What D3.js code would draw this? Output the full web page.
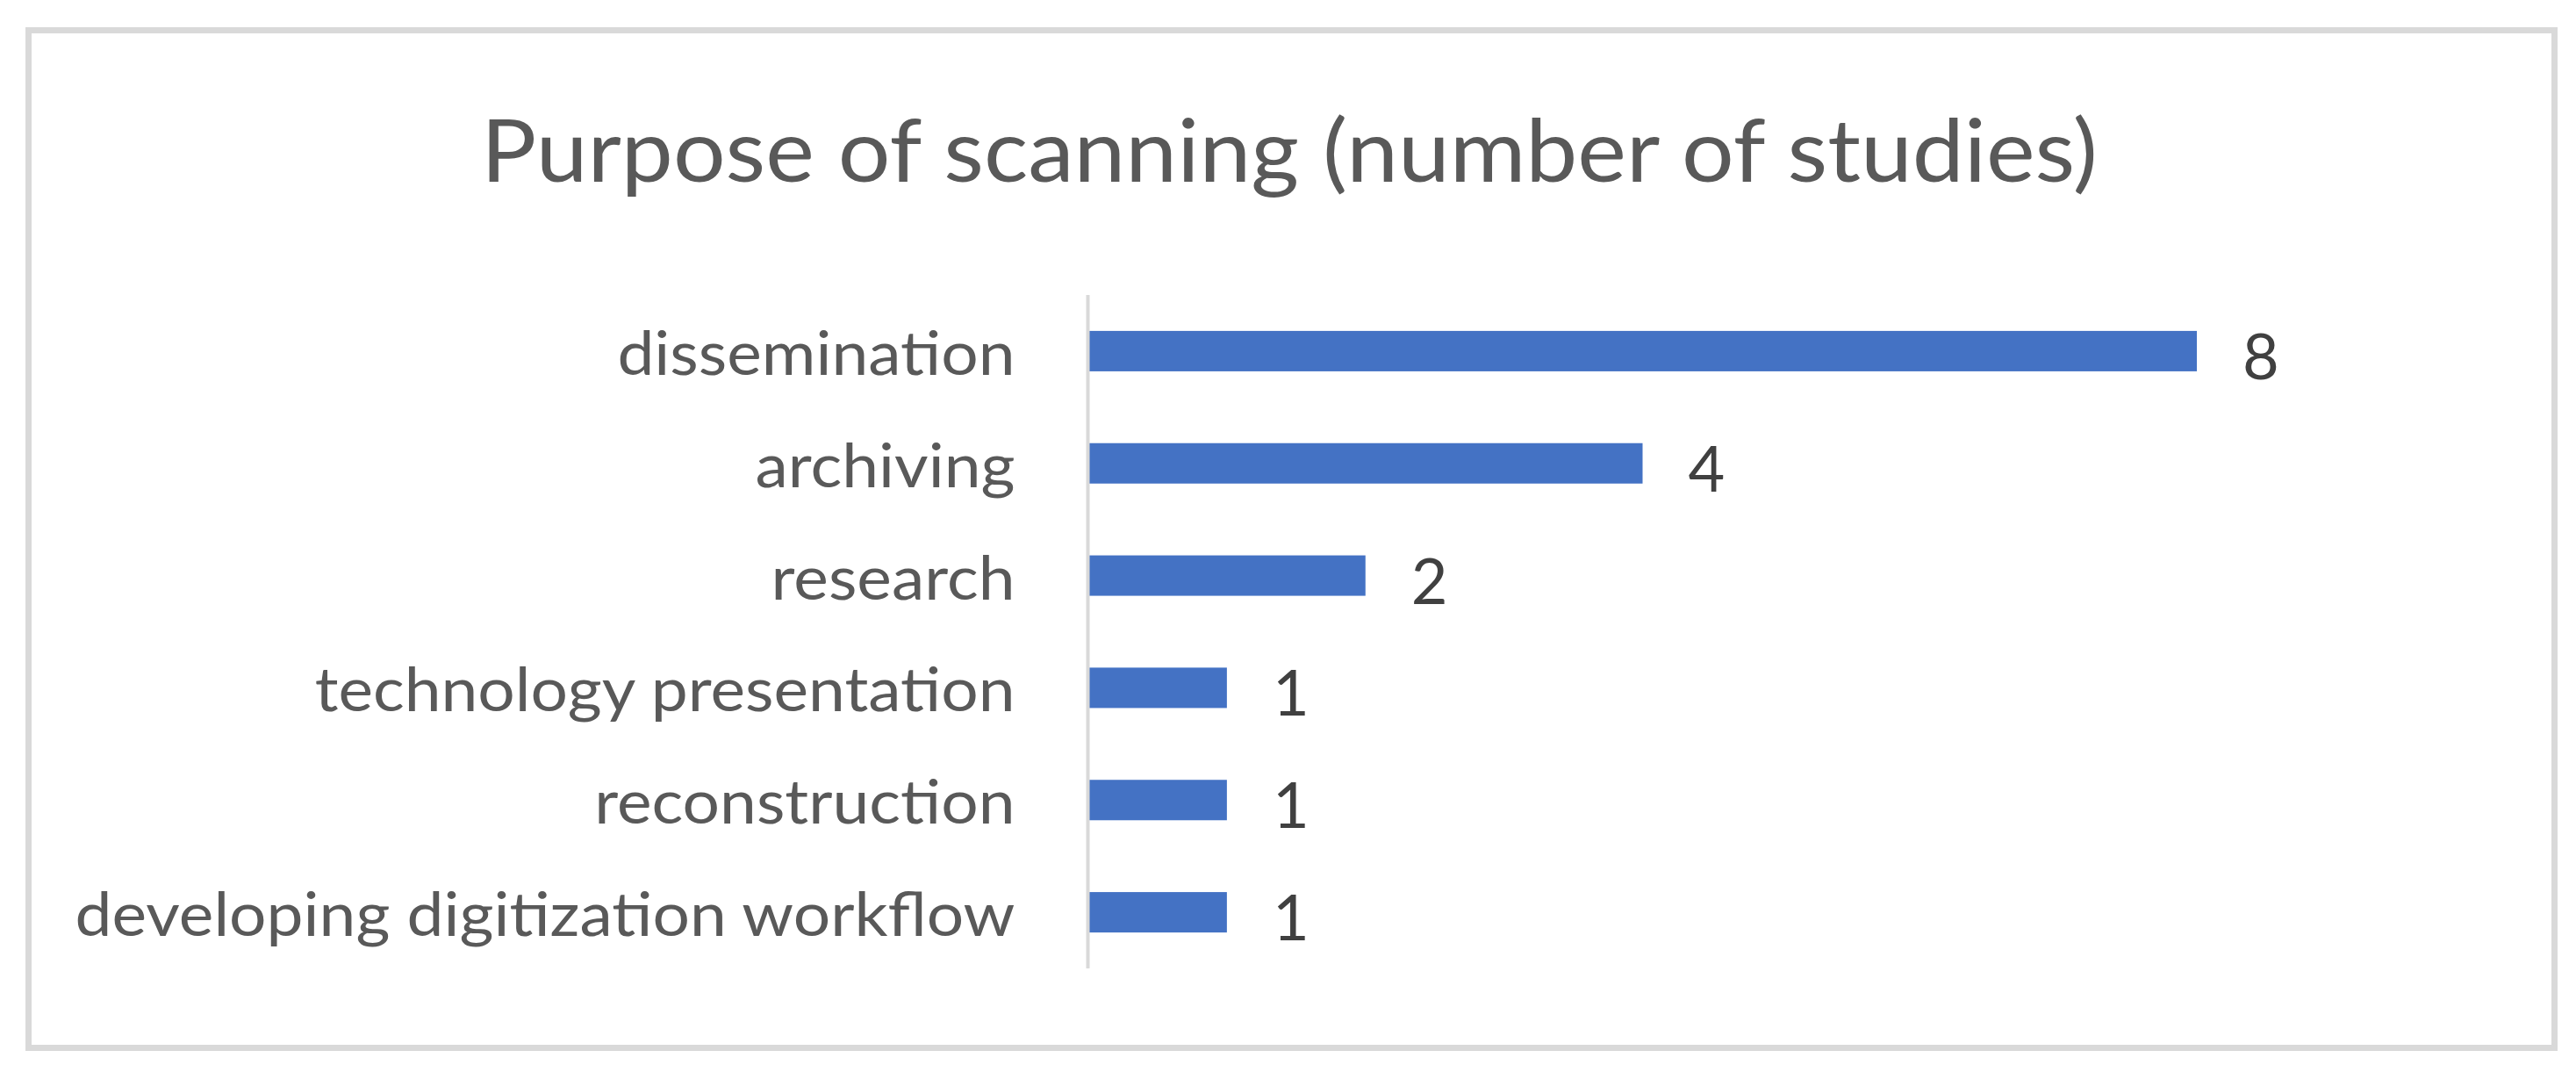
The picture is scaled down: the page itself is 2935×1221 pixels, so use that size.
<!DOCTYPE html>
<html>
<head>
<meta charset="utf-8">
<script src="https://cdnjs.cloudflare.com/ajax/libs/d3/7.8.5/d3.min.js"></script>
<style>
  html, body { margin: 0; padding: 0; background: #ffffff; }
  svg { display: block; }
</style>
</head>
<body>
<script>
// ---- data ----
const categories = [
  "dissemination",
  "archiving",
  "research",
  "technology presentation",
  "reconstruction",
  "developing digitization workflow"
];
const values = [8, 4, 2, 1, 1, 1];
const chartTitle = "Purpose of scanning (number of studies)";

// ---- layout ----
const W = 2935, H = 1221;
const svg = d3.select("body").append("svg").attr("width", W).attr("height", H);

svg.append("rect").attr("x", 0).attr("y", 0).attr("width", W).attr("height", H).attr("fill", "#ffffff");

// chart border
svg.append("rect")
  .attr("x", 32.5).attr("y", 34.5)
  .attr("width", 2910.5 - 32.5).attr("height", 1193.5 - 34.5)
  .attr("fill", "#ffffff").attr("stroke", "#d9d9d9").attr("stroke-width", 7);

const plotLeft = 1240, plotTop = 336, plotBottom = 1103;

const x = d3.scaleLinear().domain([0, 8]).range([plotLeft, 2503]);
const y = d3.scaleBand().domain(categories).range([plotTop, plotBottom])
  .paddingInner(0.64).paddingOuter(0.32);

const FONT = "Lato, 'Open Sans', sans-serif";

// title
const title = svg.append("text")
  .attr("x", 1469).attr("y", 207)
  .attr("text-anchor", "middle")
  .attr("font-family", FONT).attr("font-size", 98)
  .attr("fill", "#595959")
  .text(chartTitle);
{
  const len = title.node().getComputedTextLength();
  title.attr("textLength", 1842).attr("lengthAdjust", "spacingAndGlyphs");
}

// bars
svg.append("g").selectAll("rect")
  .data(categories)
  .join("rect")
  .attr("x", x(0))
  .attr("y", d => y(d))
  .attr("width", (d, i) => x(values[i]) - x(0))
  .attr("height", y.bandwidth())
  .attr("fill", "#4472c4");

// category axis (left), drawn with d3.axisLeft
const axisG = svg.append("g")
  .attr("transform", `translate(${plotLeft - 0.5},0)`)
  .call(d3.axisLeft(y).tickSize(0).tickPadding(83));
axisG.select(".domain").attr("stroke", "#d9d9d9").attr("stroke-width", 4)
  .attr("d", `M0,${plotTop}V${plotBottom}`);
axisG.selectAll(".tick text")
  .attr("font-family", FONT).attr("font-size", 69)
  .attr("fill", "#595959")
  .attr("dy", null)
  .attr("y", 27);

// condense labels uniformly to match narrower reference face
{
  const nodes = axisG.selectAll(".tick text").nodes();
  const lens = nodes.map(n => n.getComputedTextLength());
  const maxLen = d3.max(lens);
  const ratio = 1071 / maxLen;
  nodes.forEach((n, i) => {
    d3.select(n).attr("textLength", lens[i] * ratio).attr("lengthAdjust", "spacingAndGlyphs");
  });
}

// data labels
svg.append("g").selectAll("text")
  .data(categories)
  .join("text")
  .attr("x", (d, i) => x(values[i]) + 52)
  .attr("y", d => y(d) + y.bandwidth() / 2 + 32)
  .attr("font-family", FONT).attr("font-size", 72)
  .attr("fill", "#404040")
  .text((d, i) => values[i]);
</script>
</body>
</html>
